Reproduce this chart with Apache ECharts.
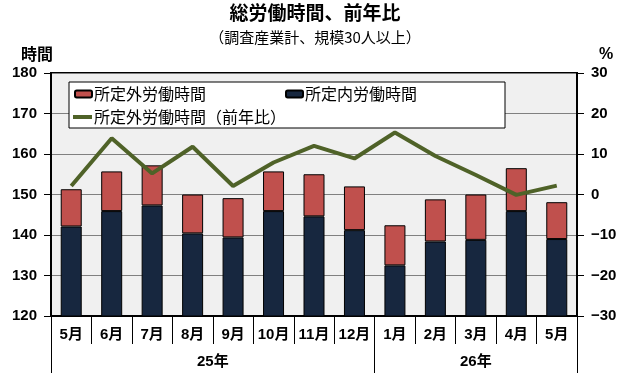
<!DOCTYPE html>
<html>
<head>
<meta charset="utf-8">
<script src="https://cdn.jsdelivr.net/npm/echarts@6/dist/echarts.min.js"></script>
<style>html,body{margin:0;padding:0;background:#fff;}#c{width:630px;height:380px;}</style>
</head>
<body>
<div id="c"></div>
<script>
const months = ['5月','6月','7月','8月','9月','10月','11月','12月','1月','2月','3月','4月','5月'];
const scheduled = [142.1,145.9,147.3,140.4,139.4,145.9,144.6,141.2,132.5,138.4,138.8,145.9,139.0];
const overtime  = [9.2,9.8,9.9,9.6,9.7,9.8,10.4,10.8,9.9,10.4,11.2,10.6,9.1];
const overtimeYoY = [2.1,13.9,5.2,11.8,2.1,7.9,12.0,8.9,15.3,9.5,4.8,-0.1,2.2];
const yearLabels = ['25年','26年'];
const yearCenters = [4, 10.5];
const yearBounds = [0, 8, 13];

const FONT = '"Liberation Sans", "Noto Sans CJK JP", sans-serif';
const JFONT = '"Noto Sans CJK JP", sans-serif';
const chart = echarts.init(document.getElementById('c'), null, {renderer:'canvas'});
chart.setOption({
  animation:false,
  backgroundColor:'#fff',
  textStyle:{fontFamily:JFONT,color:'#000'},
  title:{
    text:'総労働時間、前年比',
    subtext:'（調査産業計、規模30人以上）',
    left:'center', top:3, padding:0, itemGap:8,
    textStyle:{fontSize:19,fontWeight:'bold',color:'#000',fontFamily:JFONT},
    subtextStyle:{fontSize:15,color:'#000',fontFamily:JFONT}
  },
  grid:{left:51,right:53,top:73,bottom:64,show:true,backgroundColor:'#f0f0f0',borderColor:'#000',borderWidth:2},
  legend:[{
    data:['所定外労働時間','所定内労働時間'],
    left:69, top:82, orient:'horizontal',
    padding:[4,88,26,5], itemGap:79,
    itemWidth:17, itemHeight:7,
    backgroundColor:'#fff', borderColor:'#000', borderWidth:1,
    textStyle:{fontSize:16,color:'#000',fontFamily:JFONT,padding:[0,0,0,-3]}
  },{
    data:[{name:'所定外労働時間（前年比）',icon:'rect'}],
    left:68, top:107, padding:[2,0,0,5],
    itemWidth:19, itemHeight:4,
    textStyle:{fontSize:16,color:'#000',fontFamily:JFONT,padding:[0,0,0,-3]}
  }],
  xAxis:[{
    type:'category', data:months, position:'bottom',
    axisLine:{onZero:false,lineStyle:{color:'#000',width:2}},
    axisTick:{show:true,interval:0,length:28,lineStyle:{color:'#000',width:1}},
    axisLabel:{interval:0,margin:11,fontSize:15,fontWeight:'bold',color:'#000',fontFamily:FONT},
    splitLine:{show:false}
  },{
    type:'value', min:0, max:13, position:'bottom',
    axisLine:{show:false,onZero:false},
    axisTick:{show:true,length:57,customValues:yearBounds,lineStyle:{color:'#000',width:1}},
    axisLabel:{customValues:yearCenters,margin:38,fontSize:15,fontWeight:'bold',color:'#000',fontFamily:FONT,
      formatter:function(v){const i=yearCenters.indexOf(v);return i>=0?yearLabels[i]:'';}},
    splitLine:{show:false}
  }],
  yAxis:[{
    type:'value', min:120, max:180, interval:10, position:'left',
    name:'時間', nameLocation:'end', nameGap:11,
    nameTextStyle:{fontSize:16,fontWeight:'bold',color:'#000',fontFamily:JFONT,padding:[0,28,0,0]},
    axisLine:{show:true,onZero:false,lineStyle:{color:'#000',width:2}},
    axisTick:{show:true,length:7,lineStyle:{color:'#000'}},
    axisLabel:{margin:14,fontSize:15,fontWeight:'bold',color:'#000',fontFamily:FONT},
    splitLine:{show:true,lineStyle:{color:'#808080',width:1}}
  },{
    type:'value', min:-30, max:30, interval:10, position:'right',
    name:'%', nameLocation:'end', nameGap:10,
    nameTextStyle:{fontSize:16,fontWeight:'bold',color:'#000',fontFamily:FONT,padding:[0,0,0,58]},
    axisLine:{show:true,onZero:false,lineStyle:{color:'#000',width:2}},
    axisTick:{show:true,length:7,lineStyle:{color:'#000'}},
    axisLabel:{margin:14,fontSize:15,fontWeight:'bold',color:'#000',fontFamily:FONT,
      formatter:function(v){return String(v).replace('-','\u2212');}},
    splitLine:{show:false}
  }],
  series:[{
    name:'所定内労働時間', type:'bar', stack:'h', data:scheduled, barWidth:21,
    itemStyle:{color:'#17273f',borderColor:'#000',borderWidth:1}
  },{
    name:'所定外労働時間', type:'bar', stack:'h', data:overtime, barWidth:21,
    itemStyle:{color:'#c0504d',borderColor:'#000',borderWidth:1}
  },{
    name:'所定外労働時間（前年比）', type:'line', yAxisIndex:1, data:overtimeYoY,
    symbol:'none', lineStyle:{color:'#4f6228',width:4}, itemStyle:{color:'#4f6228'}, z:5
  }]
});
</script>
</body>
</html>
